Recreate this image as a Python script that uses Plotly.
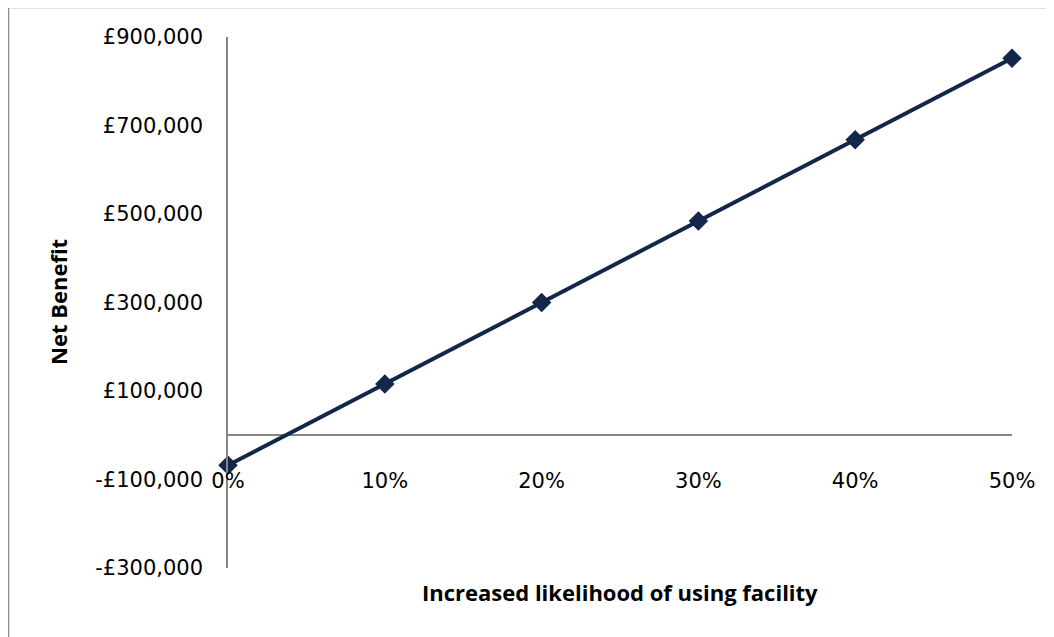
import plotly.graph_objects as go

likelihood = [0.0, 0.1, 0.2, 0.3, 0.4, 0.5]
net_benefit = [-68000, 116000, 300000, 484000, 668000, 852000]
x_tick_labels = ["0%", "10%", "20%", "30%", "40%", "50%"]
y_tick_vals = [-300000, -100000, 100000, 300000, 500000, 700000, 900000]


def gbp(v):
    s = "£{:,.0f}".format(abs(v))
    return "-" + s if v < 0 else s


y_tick_text = [gbp(v) for v in y_tick_vals]

OFF = 8  # default page body margin
W, H = 1054 - OFF, 637 - OFF
L, R, T, B = 228, 1012, 37, 568
pw, ph = R - L, B - T


def px(x):
    return (x - L) / pw


def py(y):
    return (B - y) / ph


navy = "#13274a"
grey = "#868686"

fig = go.Figure()
fig.add_trace(go.Scatter(
    x=likelihood, y=net_benefit, mode="lines+markers",
    line=dict(color=navy, width=4),
    marker=dict(symbol="diamond", size=15, color=navy),
    cliponaxis=False, showlegend=False,
))

fig.update_layout(
    width=W, height=H,
    margin=dict(l=L - OFF, r=1054 - R, t=T - OFF, b=637 - B),
    paper_bgcolor="white", plot_bgcolor="white",
    font=dict(family="DejaVu Sans", size=21, color="black"),
    xaxis=dict(
        range=[0, 0.5], tickvals=likelihood, ticktext=x_tick_labels,
        showgrid=False, zeroline=False, showline=False, ticks="",
        anchor="free", position=py(466),
        tickfont=dict(family="DejaVu Sans", size=21),
    ),
    yaxis=dict(
        range=[-300000, 900000], tickvals=y_tick_vals, ticktext=y_tick_text,
        showgrid=False, zeroline=True, zerolinecolor=grey, zerolinewidth=1.5,
        showline=True, linecolor=grey, linewidth=1.5, ticks="",
        ticklabelstandoff=19,
        tickfont=dict(family="DejaVu Sans", size=21),
    ),
    annotations=[
        dict(text="<b>Increased likelihood of using facility</b>",
             xref="paper", yref="paper", x=px(620), y=py(592),
             xanchor="center", yanchor="middle",
             showarrow=False, font=dict(family="Open Sans", size=22, color="black")),
        dict(text="<b>Net Benefit</b>", textangle=-90,
             xref="paper", yref="paper", x=px(58), y=py(302),
             xanchor="center", yanchor="middle",
             showarrow=False, font=dict(family="Open Sans", size=22, color="black")),
    ],
    shapes=[
        dict(type="rect", xref="paper", yref="paper",
             x0=px(8), y0=py(660), x1=px(1080), y1=py(7),
             line=dict(color="#8c8c8c", width=2.5), layer="below"),
    ],
)

fig.write_html("out.html")
